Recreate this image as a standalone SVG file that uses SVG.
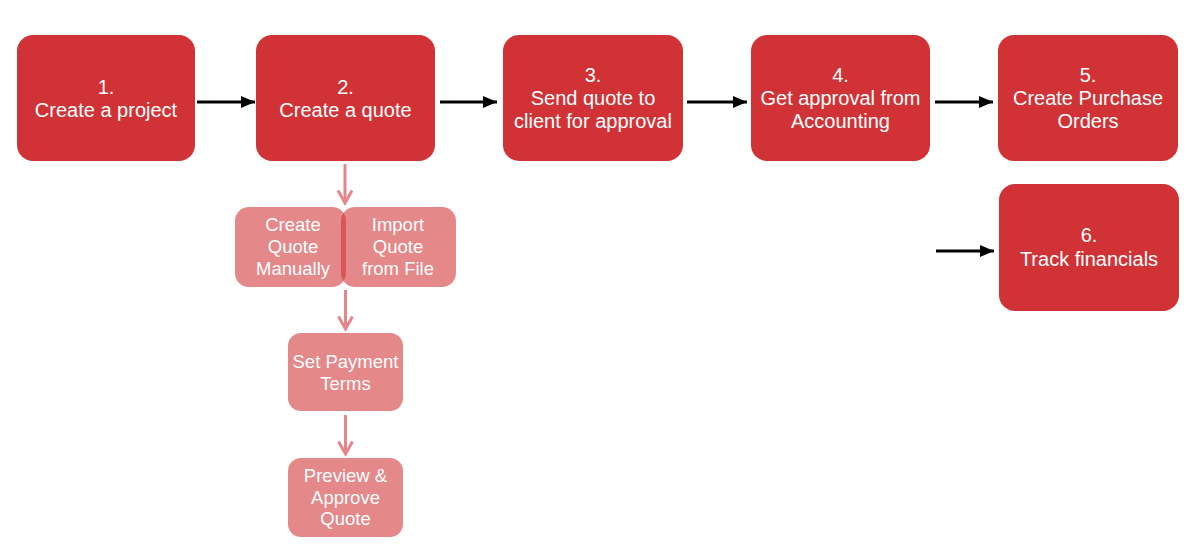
<svg xmlns="http://www.w3.org/2000/svg" width="1202" height="545" viewBox="0 0 1202 545">
<defs>
<style>
.main{fill:#d13236;}
.sub{fill:#d13236;fill-opacity:0.58;}
.t{font-family:"Liberation Sans",Arial,sans-serif;font-size:20px;fill:#ffffff;text-anchor:middle;}
.ts{font-family:"Liberation Sans",Arial,sans-serif;font-size:18.5px;fill:#ffffff;text-anchor:middle;}
.blk{stroke:#000;stroke-width:3.2;fill:none;}
.pk{stroke:#e4868a;stroke-width:3;fill:none;}
</style>
<marker id="ah" markerUnits="userSpaceOnUse" markerWidth="14" markerHeight="12" refX="14" refY="6" orient="auto">
<path d="M0,0 L14,6 L0,12 Z" fill="#000"/>
</marker>
<marker id="ch" markerUnits="userSpaceOnUse" markerWidth="18" markerHeight="18" refX="14" refY="8" orient="auto">
<path d="M1.5,1 L14,8 L1.5,15" fill="none" stroke="#e4868a" stroke-width="3"/>
</marker>
</defs>
<rect width="1202" height="545" fill="#ffffff"/>

<g id="n1"><rect class="main" x="17" y="35" width="178" height="126" rx="16"/>
<text class="t" x="106" y="94">1.</text><text class="t" x="106" y="117">Create a project</text></g>
<g id="n2"><rect class="main" x="256" y="35" width="179" height="126" rx="16"/>
<text class="t" x="345.5" y="94">2.</text><text class="t" x="345.5" y="117">Create a quote</text></g>
<g id="n3"><rect class="main" x="503" y="35" width="180" height="126" rx="16"/>
<text class="t" x="593" y="82">3.</text><text class="t" x="593" y="105">Send quote to</text><text class="t" x="593" y="128">client for approval</text></g>
<g id="n4"><rect class="main" x="751" y="35" width="179" height="126" rx="16"/>
<text class="t" x="840.5" y="82">4.</text><text class="t" x="840.5" y="105">Get approval from</text><text class="t" x="840.5" y="128">Accounting</text></g>
<g id="n5"><rect class="main" x="998" y="35" width="180" height="126" rx="16"/>
<text class="t" x="1088" y="82">5.</text><text class="t" x="1088" y="105">Create Purchase</text><text class="t" x="1088" y="128">Orders</text></g>
<g id="n6"><rect class="main" x="999" y="184" width="180" height="127" rx="16"/>
<text class="t" x="1089" y="242">6.</text><text class="t" x="1089" y="266">Track financials</text></g>

<g id="s1"><rect class="sub" x="235" y="207" width="111" height="80" rx="14"/>
<text class="ts" x="293" y="231">Create</text><text class="ts" x="293" y="253">Quote</text><text class="ts" x="293" y="275">Manually</text></g>
<g id="s2"><rect class="sub" x="341" y="207" width="115" height="80" rx="14"/>
<text class="ts" x="398" y="231">Import</text><text class="ts" x="398" y="253">Quote</text><text class="ts" x="398" y="275">from File</text></g>
<g id="s3"><rect class="sub" x="288" y="333" width="115" height="78" rx="13"/>
<text class="ts" x="345.5" y="368">Set Payment</text><text class="ts" x="345.5" y="389.5">Terms</text></g>
<g id="s4"><rect class="sub" x="288" y="458" width="115" height="79" rx="13"/>
<text class="ts" x="345.5" y="482">Preview &amp;</text><text class="ts" x="345.5" y="503.5">Approve</text><text class="ts" x="345.5" y="525">Quote</text></g>

<g id="connectors">
<line class="blk" x1="197" y1="102" x2="255" y2="102" marker-end="url(#ah)"/>
<line class="blk" x1="440" y1="102" x2="497" y2="102" marker-end="url(#ah)"/>
<line class="blk" x1="687" y1="102" x2="747" y2="102" marker-end="url(#ah)"/>
<line class="blk" x1="935" y1="102" x2="993" y2="102" marker-end="url(#ah)"/>
<line class="blk" x1="936" y1="251" x2="994" y2="251" marker-end="url(#ah)"/>
<line class="pk" x1="345" y1="164" x2="345" y2="203" marker-end="url(#ch)"/>
<line class="pk" x1="345.5" y1="290" x2="345.5" y2="329" marker-end="url(#ch)"/>
<line class="pk" x1="345.5" y1="415" x2="345.5" y2="454" marker-end="url(#ch)"/>
</g>
</svg>
